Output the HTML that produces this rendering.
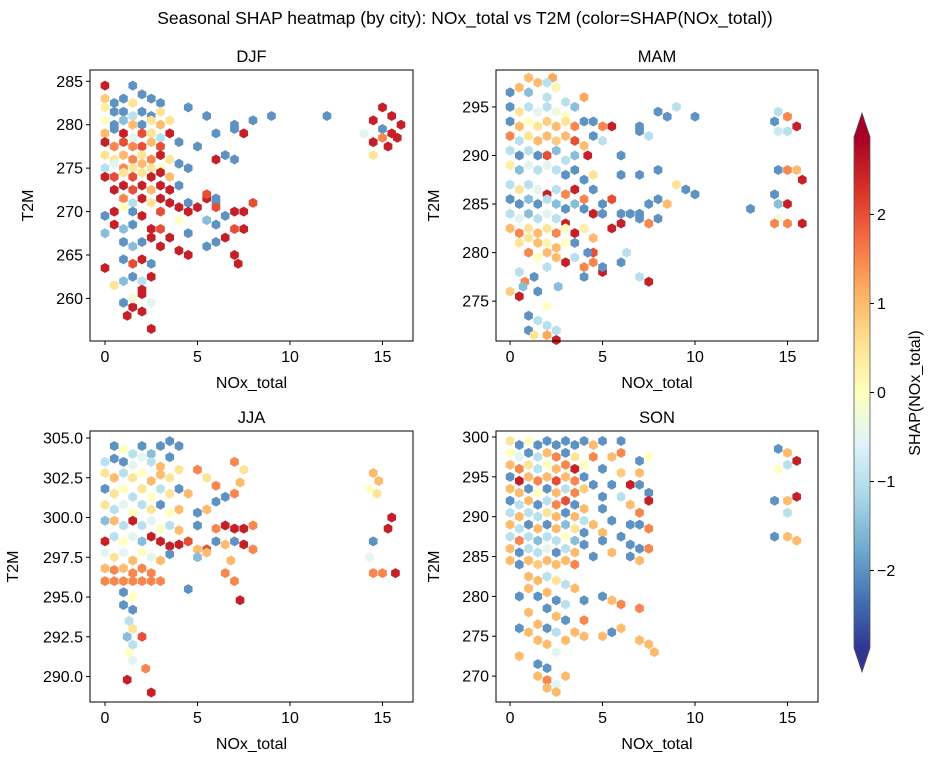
<!DOCTYPE html>
<html><head><meta charset="utf-8"><style>
body{margin:0;background:#fff}
svg text{font-family:"Liberation Sans",Arial,sans-serif;fill:#000}
</style></head><body>
<svg id="fig" width="935" height="764" viewBox="0 0 935 764" xmlns="http://www.w3.org/2000/svg">
<text x="465" y="24" font-size="17.5" text-anchor="middle">Seasonal SHAP heatmap (by city): NOx_total vs T2M (color=SHAP(NOx_total))</text>
</svg>
<script>
const djfCells=[[0,284.5,2.5],[1.5,284.5,-2],[2,283.5,-2],[0,283,0.8],[0.5,282.5,-2],[1,283,-2],[1.5,282.5,0.5],[2.5,283,-2],[3,282.5,-2],[4.5,282,-2],[5.5,281,-2],[12,281,-2],[8,280.5,-2],[0,282,0.3],[0.5,281.5,-2],[1,281.5,-2],[1.5,281,-1],[2,281.5,-2],[2.5,281,-2],[3,281.5,0.5],[0,280.5,0],[0.5,280,-2],[1,280.5,-1.5],[1.5,280,1],[2,280,-2],[2.5,280.5,0.5],[3,280,1],[3.5,280.5,0.5],[9,281,-2],[0,279,1],[0.5,279.5,-2],[1,279,2.5],[1.5,278.5,-0.5],[2,279,2],[2.5,279,0.5],[3,278.5,-1],[3.5,279,2.5],[4,278,-2],[5,277.5,-2],[6,279,-2],[7,279.5,-2],[7,280,-2],[7.5,279,2.5],[0,278,2.5],[0.5,277.5,1.5],[1,278,2],[1.5,277.5,1.5],[2,277.5,2],[2.5,278,1],[3,277.5,2],[0,276.5,0.5],[0.5,276,0.5],[1,276.5,1],[1.5,276,1.5],[2,276.5,0.5],[2.5,276,1.5],[3,276.5,2.5],[3.5,276,0.5],[4,275.5,-2],[4.5,275,-2],[6,276,2.5],[6.5,276.5,-2],[7,276,-2],[0,275,-1],[0.5,275.5,-0.5],[1,275,1.5],[1.5,275,0.5],[2,275.5,1],[2.5,275,0.5],[3,275,0],[0,274,2.5],[0.5,274,2],[1,274.5,0.5],[1.5,274,2],[2,274.5,0.5],[2.5,274,2.5],[3,274.5,2.5],[3.5,274,1],[0.5,272.5,2.5],[1,273,2.5],[1.5,272.5,2],[2,273,2.5],[2.5,272.5,1],[3,273,2.5],[3.5,272.5,2.5],[4,273,-2],[5.5,271.5,2.5],[6,271,-2],[4.5,271,-2],[1,271.5,1.5],[1.5,271,-1],[2,271.5,2.5],[2.5,271,0.5],[3,271.5,2.5],[3.5,271,2.5],[1,270.5,0],[0,269.5,-2],[0.5,270,2.5],[1.5,270,-2],[2,269.5,2.5],[3,270,2],[4,270.5,2.5],[4.5,270,2.5],[5,270.5,2.5],[6,270.5,2],[6.5,269.5,-2],[7,270,2.5],[7.5,270,2.5],[8,271,2],[6,271.5,-2],[5.5,272,2],[5.5,269,-1.5],[4,269,0],[0.5,268.5,2.5],[1,268,-1.5],[1.5,268.5,-2],[2.5,268,2.5],[3,268,2],[4.5,267.5,-2],[6,268.5,-2],[7,268,2],[7.5,268,2.5],[6,266.5,-2],[5.5,266,-2],[6.5,267,2.5],[0,267.5,-1.5],[1,266.5,-2],[1.5,266,-1.5],[2,266.5,-2],[2.5,267,2.5],[3.5,267,2.5],[3,266,2.5],[4,265.5,2.5],[4.5,265,2.5],[7,265,2.5],[7.2,264,2.5],[1,264.5,-2],[2,264.5,2.5],[2.5,264,-2],[1.5,264,2],[0,263.5,2.5],[1.5,262.5,-2],[2,262,-1],[2.5,262.5,2.5],[0.5,261.5,0.5],[1,262,-1.5],[2,261,2.5],[1,259.5,-2],[1.5,259,2.5],[1.2,258,2.5],[2,258.5,2.5],[2.5,259.5,-0.5],[1.5,260,-0.2],[2.5,256.5,2.5],[2,260.5,2.5],[14.5,280.5,2.5],[15,279.5,-2],[15,282,2.5],[15.5,281,2.5],[16,280,2.5],[15.5,279,2.5],[14,279,-0.5],[14.5,278,2.5],[15,278.5,1.5],[15.3,277.5,2.5],[15.8,278.5,2.5],[14.5,276.5,0.5]];
const mamCells=[[0,296.5,-2],[0.5,297,1],[1,296.5,-1.5],[1.5,297.5,1],[2,296,-1],[2.5,297,0.2],[3,295.5,-1],[3.5,295,-1.5],[4,296,1.2],[1,298,1],[2.3,298,1.2],[2,297.5,-1],[0,295,-2],[0.5,294.5,0.5],[1,295,-1],[1.5,294.5,-0.5],[2,295,-1],[2.5,294.5,-0.3],[3,294,0],[0,293.5,-2],[0.5,293,1],[1,293.5,0],[1.5,293,0.5],[2,293.5,0.8],[2.5,293,1],[3,293.5,0.5],[3.5,293,1.5],[4,293.5,-2],[4.5,293.5,-2],[5,293,1.5],[5.5,293,2.5],[7,293,-2],[8,294.5,-2],[8.5,294,-2],[9,295,-1],[10,294,-2],[4.5,292,-2],[5,291.5,-1],[0,292,1.5],[0.5,291.5,-1],[1,292,0.5],[1.5,291.5,1],[2,292,1],[2.5,291.5,0.8],[3,292,1],[3.5,291.5,2],[4,291,1],[4.2,290,2.5],[7,292.5,-2],[7.5,292,-1],[6,290,-2],[0,290.5,-1],[0.5,290,-2],[1,290.5,-1],[1.5,290,-2],[2,290,2],[2.5,290.5,-1.5],[3,289.5,-1],[3.5,290,-1.5],[0,289,0.3],[0.5,288.5,-1.5],[1,289,-0.5],[1.5,288.5,-1],[2,289,-0.5],[2.5,288.5,-1],[3,288,-2],[3.5,288.5,-2],[4,287.5,-2],[4.5,288,0.5],[6,288,-2],[7,288,-2],[8,288.5,-2],[9,287,0.5],[9.5,286.5,-2],[10,286,-2],[0,287,-1],[0.5,286.5,0.5],[1,287,-1],[1.5,286.5,-0.5],[2,286,2.5],[2.5,286.5,-1],[3,286,1.5],[3.5,286.5,2.5],[4,285.5,1.5],[4.5,286.5,-2],[5,285,-2],[5.5,285.5,2],[7.5,285,-2],[8,285.5,-2],[8.5,285,1],[0,285.5,-2],[0.5,285,-2],[1,285.5,-1.5],[1.5,285,-2],[2,285.5,-1],[2.5,285,-1.5],[3,284.5,-2],[3.5,285,-1.5],[4,284.5,-2],[5,284,-2],[6,284,-2],[7,284,-2],[8,283.5,-2],[6.5,284,-2],[7,283.5,-2],[7.5,283,1.5],[6,283,2.5],[5.5,282.5,2.5],[4.5,284,2.5],[0,284,-1],[0.5,283.5,-0.5],[1,284,-1.5],[1.5,283.5,-1],[2,284,-0.5],[2.5,283.5,-1],[3,283,2.5],[0,282.5,1],[0.5,282,1.5],[1,282.5,0.5],[1.5,282,1],[2,282.5,0.5],[2.5,282,1.5],[3,282.5,0],[3.5,282,2.5],[4,282.5,0.3],[4.5,281.5,1],[0.5,281,0.5],[1,281.5,0.5],[1.5,281,1],[2,281,0.2],[2.5,280.5,1],[3,281,0],[3.5,281,-2],[4.5,280,2],[1,280,1.5],[1.5,279.5,0],[2,280,1],[2.5,279.5,1],[3,279,2.5],[3.5,279.5,-1],[4,278.5,1.5],[4.5,279,1.5],[5,278,2.5],[0.5,278,-1],[0.8,277,1.5],[1.3,277.5,-2],[1.5,276,-2],[0,276,0.8],[0.5,275.5,2.5],[0.7,276.5,-1.5],[2,274.5,0],[1,273.5,-2],[1.5,273,-1],[2,272.5,-1],[2.5,272,-1],[1,272,-2],[1.3,271.5,0.5],[2.5,271,2.5],[2,271.5,1.2],[2.6,276.5,-1.5],[2,278.5,-1],[4,277.5,-2],[5,278.5,-2],[6,279,-2],[6.3,280,-1],[7,277.5,-1],[7.5,277,2.5],[4.2,280,-2],[13,284.5,-2],[14.5,294.5,-1],[15,294,1.5],[15.5,293,2.5],[14.3,293.5,-2],[14.5,292.5,-0.8],[15,292.5,-1],[15,288.5,1.5],[15.5,288.5,1],[14.5,288.5,-2],[14.3,286,-2],[15.8,287.5,2.5],[14.5,285,-1.5],[15,285,2.5],[14.5,283.5,-0.3],[14.3,283,1.5],[15,283,1.5],[15.8,283,2.5]];
const jjaCells=[[0.5,304.5,-2],[1,304.3,0],[1.5,304,-1],[2,304.5,-2],[2.5,304,-1.5],[3,304.5,-2],[3.5,304.8,-2],[4,304.5,-2],[0,303.5,-1],[0.5,303.7,-2],[1,303.5,-2],[1.5,303.3,-0.5],[2,303.8,-0.5],[2.5,303.5,-1],[3,303.2,1],[3.5,303.8,-2],[0,302.8,0.5],[0.5,302.5,1],[1,302.8,-1],[1.5,302.5,0.5],[2,302.8,0],[2.5,302.3,1],[3,302.7,1],[3.5,302.5,0.5],[4,303,0.5],[5,303,1.5],[7,303.5,1.5],[7.5,303,0.5],[6,302,1.5],[5.5,302.5,0.5],[0,301.8,-2],[0.5,301.5,0.5],[1,301.8,0],[1.5,301.3,-1],[2,301.8,0.5],[2.5,301.3,0],[3,301.8,-1],[3.5,301.5,0.5],[4,301.8,-2],[4.5,301.5,1],[6.5,301.3,-2],[7,301.5,1.5],[7.3,302.2,1],[0,300.8,0.5],[0.5,300.5,-1],[1,300.8,-0.5],[1.5,300.3,0],[2,300.8,-1],[2.5,300.5,0.5],[3,300.8,-2],[3.5,300.3,0],[4,300.5,1],[5,300.3,-2],[5.5,300.5,1],[6,301,-2],[0,299.8,-1.5],[0.5,299.8,1],[1,299.5,-1],[1.5,299.8,2.5],[2,299.5,-1],[2.5,299.8,-0.5],[3,299.3,0],[3.5,299.5,-1],[4,299.2,1],[5,299.5,-2],[6,299.3,1.5],[6.5,299.5,2.5],[7,299.3,2.5],[7.5,299.3,2.5],[8,299.5,1.5],[0,298.5,2.5],[0.5,298.8,-1],[1,298.5,0],[1.5,298.8,-0.5],[2,298.5,-1.5],[2.5,298.8,2.5],[3,298.5,2.5],[3.5,298.2,2.5],[4,298.3,2.5],[4.5,298.5,2],[5,298,1],[5.5,298,2],[6,298.5,-2],[6.5,298.3,1],[7,298.5,-2],[7.5,298.3,2.5],[8,298,1.5],[0,297.8,-0.5],[0.5,297.5,0.5],[1,297.8,-0.5],[1.5,297.3,1],[2,297.8,0],[2.5,297.5,-0.5],[3,297.3,1],[3.5,297.7,-2],[5,297.5,-1.5],[5.5,297.8,1],[6.8,297.3,1],[0,296.8,1],[0.5,296.7,1.5],[1,296.8,1],[1.5,296.5,1.5],[2,296.8,1.5],[2.5,296.5,1.5],[0,296,1.5],[0.5,296,1.5],[1,296,1.5],[1.5,296,1.5],[2,296,1.5],[2.5,296,1.5],[3,296,1.5],[6.5,296.5,1.5],[7,296,1.5],[4.5,295.5,-2],[7.3,294.8,2.5],[1,295.3,-2],[1.5,295,0],[1,294.5,-2],[1.5,294.2,-2],[1.3,293.5,-1],[1.5,293,0.5],[1.2,292.5,-1.5],[2,292.5,2],[1.5,292,-1],[1.3,291.5,0],[1.5,291,-0.5],[2.2,290.5,1.5],[1.2,289.8,2.5],[2.5,289,2.5],[14.5,302.8,1],[14.8,302.3,1],[14.3,301.8,0],[14.7,301.5,0.5],[15.5,300,2.5],[15.3,299.3,2.5],[14.5,298.5,-2],[14.3,297.5,-0.5],[14.5,296.5,1.5],[15,296.5,1.5],[15.7,296.5,2.5]];
const sonCells=[[0,299.5,0.5],[0.5,299,-2],[1,299.5,0],[1.5,299,-2],[2,299.5,-2],[2.5,299,-2],[3,299.5,-2],[3.5,299,-2],[4,299.5,-2],[4.5,299,1],[5,299.5,-2],[6,299.5,-2],[0,298,0],[0.5,297.5,-0.5],[1,298,-2],[1.5,297.5,-1],[2,298,1],[2.5,297.5,1.5],[3,298,-2],[3.5,297.5,0.5],[4.5,297.5,1.5],[5.5,297.5,1],[6,298,1.5],[7,297,-2],[7.5,297.5,0],[0,296.5,1],[0.5,296,1.5],[1,296.5,0.5],[1.5,296,-1],[2,296.5,0],[2.5,296,1],[3,296.5,1.5],[3.5,296,2.5],[4,296.5,0],[5,296,-2],[6,295.5,0.8],[7,295.5,1],[0,295,-2],[0.5,294.5,2.5],[1,295,1],[1.5,294.5,1.5],[2,295,1],[2.5,294.5,2],[3,295,1],[3.5,294.5,1.5],[4,295,-2],[4.5,294,-2],[5.5,294,-2],[6.5,294,2.5],[7,294,-2],[7.5,293,-2],[0,293.5,1],[0.5,293,1],[1,293.5,-2],[1.5,293,0],[2,293.5,-2],[2.5,293,1],[3,293.5,-1],[3.5,293,1.5],[4,293.5,0.8],[5,292.5,-2],[6,292.5,-1],[7.5,292,2.5],[6.5,291.5,1],[7,290.5,1.5],[0,292,-2],[0.5,291.5,-1],[1,292,1],[1.5,291.5,-2],[2,292,-1],[2.5,291.5,1.5],[3,292,2],[3.5,291.5,-2],[4,291,1],[5,291,-2],[0,290.5,-1],[0.5,290,1],[1,290.5,-1],[1.5,290,-1],[2,290.5,0.5],[2.5,290,1],[3,290.5,-2],[3.5,290,1],[4,289.5,-1],[4.5,289,1],[5.5,289.5,-2],[6.5,289,-2],[7,289,-2],[7.5,288.5,1.5],[0,289,1],[0.5,288.5,-1],[1,289,-2],[1.5,288.5,1],[2,289,-2],[2.5,288.5,1],[3,289,-1.5],[3.5,288.5,0.5],[4,288,-2],[5,288,1],[6,287.5,-2],[0,287.5,-1],[0.5,287,1.5],[1,287.5,-1],[1.5,287,-1.5],[2,287.5,-1],[2.5,287,-1],[3,287.5,0],[3.5,287,-1.5],[4,286.5,-2],[5,287,-2],[6.5,286.5,-2],[7,286,-2],[7.5,286,1.5],[0,286,1],[0.5,285.5,-2],[1,286,-1],[1.5,285.5,-1],[2,286,-0.5],[2.5,285.5,-2],[3,286,-1],[3.5,285.5,1],[4.5,285,-2],[5.5,285.5,1],[6.5,285,-2],[7,284.5,1],[0,284.5,1],[0.5,284,-2],[1,284.5,1],[1.5,284,0.8],[2,284.5,1],[2.5,284,1],[3,284.5,1],[3.5,284,1.5],[1,282.5,1],[1.5,282,1],[2,282.5,-1],[2.5,282,0.5],[3,281.5,-1],[3.5,281,1],[1,281,1],[0.5,280,-2],[1.5,280,-2],[2,280.5,1],[2.5,279.5,-2],[3,279,-1],[4,279.5,-2],[5,280,-2],[5.5,279.5,1],[6,279,1.5],[7,278.5,1.5],[2,278.5,-2],[1,278,1],[2.5,277.5,1],[3,277,-2],[4,277,1.5],[1.5,276.5,1],[0.5,276,-2],[1,275.5,1],[2,276,-2],[2.5,275.5,-1],[3.5,275.5,1],[4,275,1],[5,275,1],[5.5,275.5,-2],[6,276,1],[7,274.5,1],[7.5,274,1],[7.8,273,1],[1.5,274.5,1],[2,274,1],[3,274.5,1],[2.5,273,-0.5],[1.5,271.5,-2],[2,271,-2],[0.5,272.5,1],[1.5,270,1],[2,269.5,1.5],[2,268.5,1],[2.5,269,-0.5],[3,270,1],[2.5,268,1],[14.5,298.5,-2],[15,298,1],[15.5,297,2.5],[14.5,296,0],[15,296.5,-1],[14.3,292,-2],[15,292,1],[15.5,292.5,2.5],[15,290.5,-1],[14.3,287.5,-2],[15,287.5,1],[15.5,287,1]];
const seasonNames=["DJF","MAM","JJA","SON"];
const xTicks=[0,5,10,15];
const djfYTicks=[260,265,270,275,280,285];
const mamYTicks=[275,280,285,290,295];
const jjaYTicks=[290,292.5,295,297.5,300,302.5,305];
const sonYTicks=[270,275,280,285,290,295,300];
const cbarTicks=[-2,-1,0,1,2];

const NS="http://www.w3.org/2000/svg";
const svg=document.getElementById('fig');
const stops=['#313695','#4575b4','#74add1','#abd9e9','#e0f3f8','#ffffbf','#fee090','#fdae61','#f46d43','#d73027','#a50026'];
const VMIN=-2.87,VMAX=2.87;
function hex2rgb(h){return [1,3,5].map(i=>parseInt(h.substr(i,2),16));}
function cmap(v){let t=(v-VMIN)/(VMAX-VMIN);t=Math.max(0,Math.min(1,t));const p=t*(stops.length-1);const i=Math.min(Math.floor(p),stops.length-2);const f=p-i;const a=hex2rgb(stops[i]),b=hex2rgb(stops[i+1]);return 'rgb('+a.map((c,k)=>Math.round(c+(b[k]-c)*f)).join(',')+')';}
function mk(tag,attrs,parent){const e=document.createElementNS(NS,tag);for(const k in attrs)e.setAttribute(k,attrs[k]);(parent||svg).appendChild(e);return e;}

const panels=[
 {cells:djfCells,yt:djfYTicks,x0:90,x1:413,y0:70,y1:341,xd:[-0.81,16.65],yd:[255.1,286.3],fmt:v=>String(v)},
 {cells:mamCells,yt:mamYTicks,x0:496,x1:818,y0:70,y1:341,xd:[-0.76,16.65],yd:[270.9,298.8],fmt:v=>String(v)},
 {cells:jjaCells,yt:jjaYTicks,x0:90,x1:413,y0:431,y1:702,xd:[-0.81,16.65],yd:[288.4,305.44],fmt:v=>v.toFixed(1)},
 {cells:sonCells,yt:sonYTicks,x0:496,x1:818,y0:431,y1:702,xd:[-0.76,16.65],yd:[266.75,300.75],fmt:v=>String(v)}
];
const R=5;
panels.forEach((p,pi)=>{
 const sx=v=>p.x0+(v-p.xd[0])/(p.xd[1]-p.xd[0])*(p.x1-p.x0);
 const sy=v=>p.y1-(v-p.yd[0])/(p.yd[1]-p.yd[0])*(p.y1-p.y0);
 const g=mk('g',{});
 
 
 const cg=mk('g',{},g);
 
 
 p.cells.forEach(c=>{
  const cx=sx(c[0]),cy=sy(c[1]);let d='';
  for(let k=0;k<6;k++){const a=Math.PI/180*(90+60*k);d+=(k?'L':'M')+(cx+R*Math.cos(a)).toFixed(2)+','+(cy-R*Math.sin(a)).toFixed(2);}
  const h=mk('path',{d:d+'Z',fill:cmap(c[2])},cg);
  
  
 });
 const fr=mk('rect',{x:p.x0,y:p.y0,width:p.x1-p.x0,height:p.y1-p.y0,fill:'none',stroke:'#000','stroke-width':1},g);
 
 
 xTicks.forEach(v=>{const x=sx(v);mk('line',{x1:x,x2:x,y1:p.y1,y2:p.y1+4,stroke:'#000'},g);
  const t=mk('text',{x:x,y:p.y1+21,'font-size':16,'text-anchor':'middle'},g);t.textContent=v;
  
  });
 p.yt.forEach(v=>{const y=sy(v);mk('line',{x1:p.x0-4,x2:p.x0,y1:y,y2:y,stroke:'#000'},g);
  const t=mk('text',{x:p.x0-7,y:y+5.5,'font-size':16,'text-anchor':'end'},g);t.textContent=p.fmt(v);
  
  });
 const tt=mk('text',{x:(p.x0+p.x1)/2,y:p.y0-8,'font-size':16.5,'text-anchor':'middle'},g);tt.textContent=seasonNames[pi];
 
 
 const xl=mk('text',{x:(p.x0+p.x1)/2,y:p.y1+47,'font-size':16,'text-anchor':'middle'},g);xl.textContent='NOx_total';
 
 
 const yl=mk('text',{x:0,y:0,'font-size':16,'text-anchor':'middle',transform:'translate('+(pi===2?p.x0-72:p.x0-57)+','+((p.y0+p.y1)/2)+') rotate(-90)'},g);yl.textContent='T2M';
 
 
});
// colorbar
const cb={x0:854,x1:870,top:137,bot:648};
const cy=v=>cb.bot-(v-VMIN)/(VMAX-VMIN)*(cb.bot-cb.top);
const cg=mk('g',{});


const defs=mk('defs',{},cg);
const lg=mk('linearGradient',{id:'cbg',x1:0,y1:1,x2:0,y2:0},defs);
stops.forEach((s,i)=>mk('stop',{offset:i/(stops.length-1),'stop-color':s},lg));
mk('rect',{x:cb.x0,y:cb.top,width:cb.x1-cb.x0,height:cb.bot-cb.top,fill:'url(#cbg)'},cg);
mk('polygon',{points:`${cb.x0},${cb.top} ${(cb.x0+cb.x1)/2},113 ${cb.x1},${cb.top}`,fill:stops[10]},cg);
mk('polygon',{points:`${cb.x0},${cb.bot} ${(cb.x0+cb.x1)/2},672 ${cb.x1},${cb.bot}`,fill:stops[0]},cg);
mk('polygon',{points:`${cb.x0},${cb.top} ${(cb.x0+cb.x1)/2},113 ${cb.x1},${cb.top} ${cb.x1},${cb.bot} ${(cb.x0+cb.x1)/2},672 ${cb.x0},${cb.bot}`,fill:'none',stroke:'#555','stroke-width':0.8},cg);
cbarTicks.forEach(v=>{const y=cy(v);mk('line',{x1:cb.x1,x2:cb.x1+4,y1:y,y2:y,stroke:'#000'},cg);
 const t=mk('text',{x:cb.x1+7,y:y+5.5,'font-size':16},cg);t.textContent=v<0?'\u2212'+Math.abs(v):String(v);
 
 });
const cl=mk('text',{x:0,y:0,'font-size':16,'text-anchor':'middle',transform:'translate(920,393) rotate(-90)'},cg);cl.textContent='SHAP(NOx_total)';


</script>
</body></html>
